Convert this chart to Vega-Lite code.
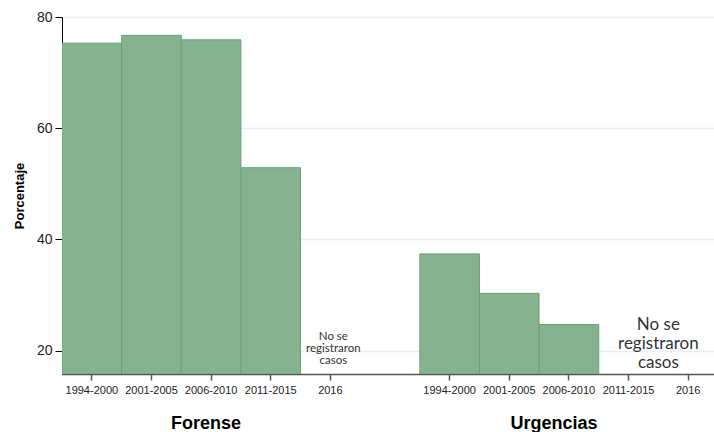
{
  "$schema": "https://vega.github.io/schema/vega-lite/v6.json",
  "width": 656,
  "height": 357,
  "autosize": {"type": "none"},
  "padding": {"left": 62, "top": 17, "right": 0, "bottom": 58},
  "background": "white",
  "config": {"view": {"stroke": null}, "font": "Liberation Sans"},
  "datasets": {
    "bars": [
      {"key": "F-1994-2000", "group": "Forense", "period": "1994-2000", "value": 75.3},
      {"key": "F-2001-2005", "group": "Forense", "period": "2001-2005", "value": 76.7},
      {"key": "F-2006-2010", "group": "Forense", "period": "2006-2010", "value": 75.9},
      {"key": "F-2011-2015", "group": "Forense", "period": "2011-2015", "value": 52.9},
      {"key": "U-1994-2000", "group": "Urgencias", "period": "1994-2000", "value": 37.4},
      {"key": "U-2001-2005", "group": "Urgencias", "period": "2001-2005", "value": 30.3},
      {"key": "U-2006-2010", "group": "Urgencias", "period": "2006-2010", "value": 24.7}
    ]
  },
  "layer": [
    {
      "data": {"name": "bars"},
      "mark": {"type": "bar", "clip": true, "fill": "#85b38f", "stroke": "#6b9f77", "strokeWidth": 1},
      "encoding": {
        "x": {
          "field": "key",
          "type": "nominal",
          "scale": {
            "domain": ["F-1994-2000", "F-2001-2005", "F-2006-2010", "F-2011-2015", "F-2016", "gap", "U-1994-2000", "U-2001-2005", "U-2006-2010", "U-2011-2015", "U-2016"],
            "paddingInner": 0,
            "paddingOuter": 0
          },
          "axis": {
            "title": null,
            "labelExpr": "datum.value == 'gap' ? '' : substring(datum.value, 2)",
            "tickOpacity": {"condition": {"test": "datum.value == 'gap'", "value": 0}, "value": 1},
            "labelAngle": 0,
            "labelFontSize": 11,
            "labelColor": "#222222",
            "labelPadding": 4,
            "tickSize": 6,
            "tickColor": "#555555",
            "tickWidth": 1.5,
            "domainColor": "#555555",
            "domainWidth": 1.5,
            "grid": false
          }
        },
        "y": {
          "field": "value",
          "type": "quantitative",
          "scale": {"domain": [15.8, 80], "nice": false, "zero": false},
          "axis": {
            "values": [20, 40, 60, 80],
            "title": "Porcentaje",
            "titleFontSize": 13,
            "titleFontWeight": "bold",
            "titleColor": "black",
            "titlePadding": 10,
            "labelFontSize": 14,
            "labelColor": "#222222",
            "labelPadding": 3,
            "tickSize": 7,
            "tickColor": "black",
            "domainColor": "black",
            "grid": true,
            "gridColor": "#e6eff1",
            "gridWidth": 1.5
          }
        },
        "y2": {"datum": 15.8}
      }
    },
    {
      "data": {"values": [{"key": "F-2016", "note": "No se\nregistraron\ncasos"}]},
      "mark": {"type": "text", "font": "Lato", "fontSize": 11.5, "lineHeight": 12, "lineBreak": "\n", "color": "#333333", "baseline": "middle", "align": "center", "dx": 3},
      "encoding": {
        "x": {"field": "key", "type": "nominal"},
        "y": {"datum": 22.5},
        "text": {"field": "note"}
      }
    },
    {
      "data": {"values": [{"key": "U-2011-2015", "note": "No se\nregistraron\ncasos"}]},
      "mark": {"type": "text", "font": "Lato", "fontSize": 17, "lineHeight": 19, "lineBreak": "\n", "color": "#333333", "baseline": "middle", "align": "center"},
      "encoding": {
        "x": {"field": "key", "type": "nominal", "bandPosition": 1},
        "y": {"datum": 24.6},
        "text": {"field": "note"}
      }
    },
    {
      "data": {"values": [{"key": "F-2006-2010", "label": "Forense"}]},
      "mark": {"type": "text", "fontSize": 18, "fontWeight": "bold", "color": "black", "baseline": "middle", "align": "center", "dx": -5},
      "encoding": {
        "x": {"field": "key", "type": "nominal"},
        "y": {"datum": 6.77},
        "text": {"field": "label"}
      }
    },
    {
      "data": {"values": [{"key": "U-2006-2010", "label": "Urgencias"}]},
      "mark": {"type": "text", "fontSize": 18, "fontWeight": "bold", "color": "black", "baseline": "middle", "align": "center", "dx": -15},
      "encoding": {
        "x": {"field": "key", "type": "nominal"},
        "y": {"datum": 6.77},
        "text": {"field": "label"}
      }
    }
  ]
}
